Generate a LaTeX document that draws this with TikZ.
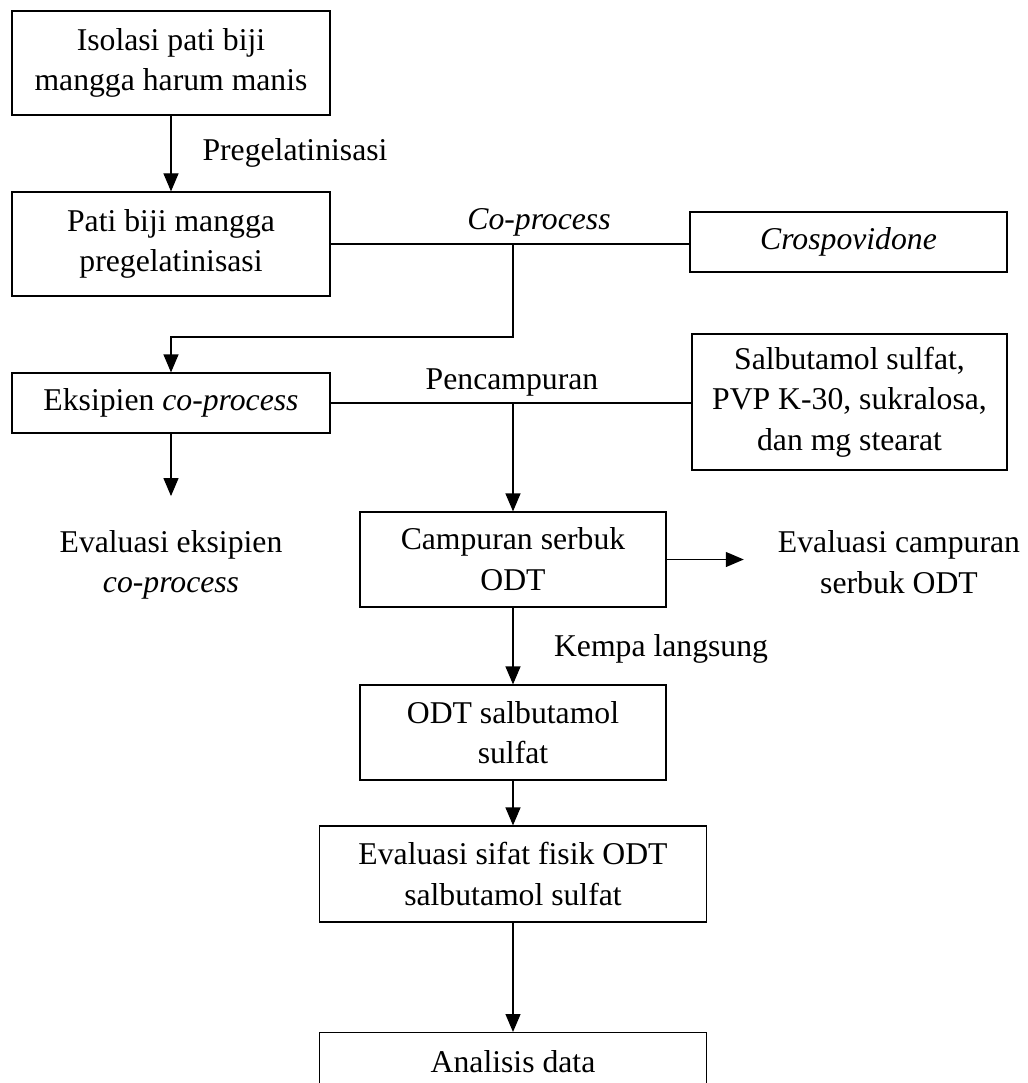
\documentclass[tikz,border=0pt]{standalone}
\usepackage{fontspec}
\setmainfont{Liberation Serif}
\usetikzlibrary{arrows.meta}
\begin{document}
\begin{tikzpicture}[x=1pt,y=-1pt,
  font=\fontsize{31.7}{40.7}\selectfont,
  box/.style={draw, line width=1.2pt, align=center, inner sep=0pt},
  lbl/.style={inner sep=0pt, align=center},
  ln/.style={line width=1.2pt},
  arr/.style={line width=1.2pt, -{Triangle[width=15pt,length=18pt]}}]
\clip (0,0) rectangle (1027,1083);
\fill[white] (0,0) rectangle (1027,1083);
% boxes
\node[box, minimum width=318, minimum height=104] (b1) at (171,63) {Isolasi pati biji\\mangga harum manis};
\node[box, minimum width=318, minimum height=104] (b2) at (171,244) {Pati biji mangga\\pregelatinisasi};
\node[box, minimum width=317, minimum height=60] (crosp) at (848.5,242) {\textit{Crospovidone}};
\node[box, minimum width=318, minimum height=60] (b3) at (171,403) {Eksipien \textit{co-process}};
\node[box, minimum width=315, minimum height=136] (salb) at (849.5,402) {Salbutamol sulfat,\\PVP K-30, sukralosa,\\dan mg stearat};
\node[box, minimum width=306, minimum height=95] (b5) at (513,559.5) {Campuran serbuk\\ODT};
\node[box, minimum width=306, minimum height=95] (b6) at (513,732.5) {ODT salbutamol\\sulfat};
\node[box, minimum width=387, minimum height=96] (b7) at (513,874) {Evaluasi sifat fisik ODT\\salbutamol sulfat};
\node[box, minimum width=387, anchor=north, text height=40pt, text depth=60pt] (b8) at (513,1032) {Analisis data};
% labels
\node[lbl] (lp) at (295,153) {Pregelatinisasi};
\node[lbl] (lc) at (539,222) {\textit{Co-process}};
\node[lbl] (lm) at (512,382) {Pencampuran};
\node[lbl] (e1) at (171,565) {Evaluasi eksipien\\\textit{co-process}};
\node[lbl] (e2) at (899,562) {Evaluasi campuran\\serbuk ODT};
\node[lbl] (lk) at (661,649) {Kempa langsung};
% junctions
\coordinate (j1) at (513,244);
\coordinate (k1) at (513,337);
\coordinate (j2) at (513,404);
% connectors
\draw[arr] (b1) -- (b2);
\draw[ln] (b2.east) -- (b2.east -| crosp.west);
\draw[arr] (j1) -- (k1) -| (b3.north);
\draw[ln] (b3.east) -- (b3.east -| salb.west);
\draw[arr] (j2) -- (b5.north);
\draw[arr, shorten >=34pt] (b3.south) -- (e1.north);
\draw[arr, shorten >=34pt] (b5.east) -- (b5.east -| e2.west);
\draw[arr] (b5) -- (b6);
\draw[arr] (b6) -- (b7);
\draw[arr] (b7) -- (b8);
\end{tikzpicture}
\end{document}
